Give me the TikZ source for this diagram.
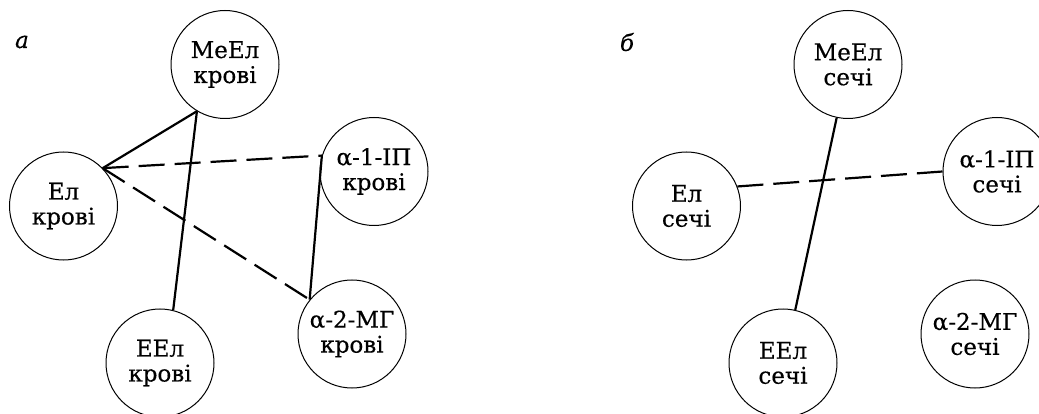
\documentclass[tikz,border=0pt]{standalone}
\usepackage{fontspec}
\setmainfont{DejaVu Serif}[FakeBold=0.4]
\begin{document}
\begin{tikzpicture}[x=1pt,y=-1pt,
  bubble/.style={draw, circle, line width=1pt, minimum size=108pt, inner sep=0pt,
    align=center, font=\fontsize{23}{25}\selectfont},
  solidlink/.style={line width=2.2pt},
  dashlink/.style={line width=2.2pt, dash pattern=on 26pt off 10pt},
  panel/.style={font=\fontsize{23}{25}\selectfont\itshape}]
\useasboundingbox (0,0) rectangle (1039,414);
% panel a
\node[panel] (la) at (22,42) {а};
\node[bubble] (meA) at (225,64.5) {МеЕл\\крові};
\node[bubble] (elA) at (63.5,206) {Ел\\крові};
\node[bubble] (ipA) at (374,171.5) {α-1-ІП\\крові};
\node[bubble] (mgA) at (352,334) {α-2-МГ\\крові};
\node[bubble] (eeA) at (160,363) {ЕЕл\\крові};
\draw[solidlink] (meA.-121.6) -- (elA.44.6);
\draw[solidlink] (meA.-121.6) -- (eeA.76.7);
\draw[dashlink] (elA.44.6) -- (ipA.163.4);
\draw[dashlink] (elA.44.6) -- (mgA.141.5);
\draw[solidlink] (ipA.163.4) -- (mgA.141.5);
% panel b
\node[panel] (lb) at (627,42) {б};
\node[bubble] (meB) at (848,64.5) {МеЕл\\сечі};
\node[bubble] (elB) at (686.5,206) {Ел\\сечі};
\node[bubble] (ipB) at (997,171.5) {α-1-ІП\\сечі};
\node[bubble] (mgB) at (975,334) {α-2-МГ\\сечі};
\node[bubble] (eeB) at (783,363) {ЕЕл\\сечі};
\draw[solidlink] (meB.-102) -- (eeB.77.7);
\draw[dashlink] (elB.21.6) -- (ipB.180);
\end{tikzpicture}
\end{document}
